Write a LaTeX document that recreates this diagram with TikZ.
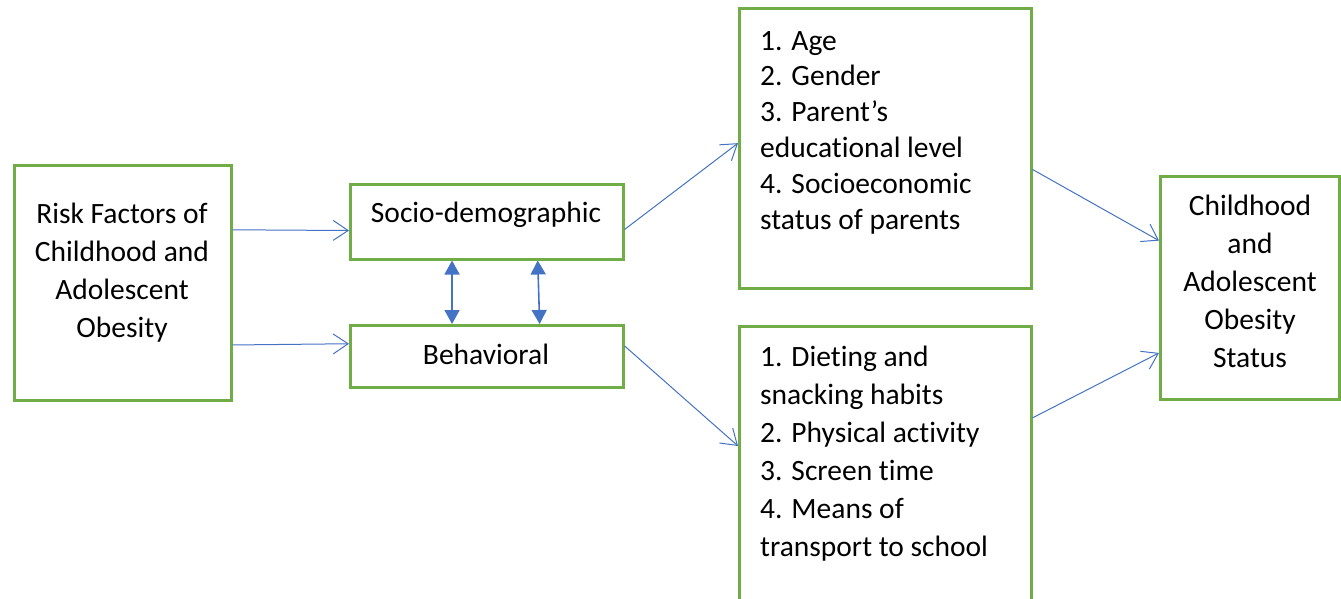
\documentclass[tikz,border=0pt]{standalone}
\usepackage{fontspec}
\setmainfont[RawFeature={-liga;-clig;-calt;-dlig}]{Carlito}
\usetikzlibrary{arrows.meta,calc}
\definecolor{boxgreen}{HTML}{70AD47}
\definecolor{linkblue}{HTML}{4472C4}
\begin{document}
\begin{tikzpicture}[x=1pt,y=-1pt,
  box/.style={draw=boxgreen,line width=2.5pt,rectangle,inner sep=0pt,anchor=north west},
  label/.style={inner sep=0pt,font=\fontsize{29.5}{38}\selectfont,text=black},
  tight/.style={font=\fontsize{29.5}{35.8}\selectfont},
  flow/.style={draw=linkblue,line width=1pt,-{Straight Barb[length=15pt,width=20pt,line width=1pt]}},
  link/.style={draw=linkblue,line width=1.6pt,{Triangle[length=14pt,width=15pt]}-{Triangle[length=14pt,width=15pt]}}]
  \useasboundingbox (0,0) rectangle (1341,598);
  \clip (0,0) rectangle (1341,598);

  % boxes
  \node[box,minimum width=217pt,minimum height=235pt] (risk) at (13,164) {};
  \node[box,minimum width=273pt,minimum height=75pt] (socio) at (349,183) {};
  \node[box,minimum width=273pt,minimum height=62pt] (behav) at (349,324) {};
  \node[box,minimum width=292pt,minimum height=280pt] (sociolist) at (738,7) {};
  \node[box,minimum width=292pt,minimum height=300pt] (behavlist) at (738,325) {};
  \node[box,minimum width=179pt,minimum height=223pt] (status) at (1159,175) {};

  % texts (multi-line nodes are placed by the baseline of their last line)
  \node[label,align=center,anchor=base] (risktext) at (122,337)
    {Risk Factors of\\Childhood and\\Adolescent\\Obesity};
  \node[label,anchor=base] (sociotext) at (486,222) {Socio-demographic};
  \node[label,anchor=base] (behavtext) at (486,364) {Behavioral};
  \node[label,tight,align=left,anchor=base west] (sociolisttext) at (760,229)
    {1. Age\\2. Gender\\3. Parent’s\\educational level\\4. Socioeconomic\\status of parents};
  \node[label,align=left,anchor=base west] (behavlisttext) at (760,556)
    {1. Dieting and\\snacking habits\\2. Physical activity\\3. Screen time\\4. Means of\\transport to school};
  \node[label,align=center,anchor=base] (statustext) at (1250,367)
    {Childhood\\and\\Adolescent\\Obesity\\Status};

  % connectors
  \draw[flow] ($(risk.north east)!0.277!(risk.south east)$) -- ($(socio.north west)!0.613!(socio.south west)$);
  \draw[flow] ($(risk.north east)!0.762!(risk.south east)$) -- ($(behav.north west)!0.306!(behav.south west)$);
  \draw[link] ($(socio.south west)!0.374!(socio.south east)$) -- ($(behav.north west)!0.374!(behav.north east)$);
  \draw[link] ($(socio.south west)!0.685!(socio.south east)$) -- ($(behav.north west)!0.692!(behav.north east)$);
  \draw[flow] ($(socio.north east)!0.6!(socio.south east)$) -- ($(sociolist.north west)!0.482!(sociolist.south west)$);
  \draw[flow] ($(behav.north east)!0.339!(behav.south east)$) -- ($(behavlist.north west)!0.4!(behavlist.south west)$);
  \draw[flow] ($(sociolist.north east)!0.575!(sociolist.south east)$) -- ($(status.north west)!0.291!(status.south west)$);
  \draw[flow] ($(behavlist.north east)!0.307!(behavlist.south east)$) -- ($(status.north west)!0.789!(status.south west)$);
\end{tikzpicture}
\end{document}
